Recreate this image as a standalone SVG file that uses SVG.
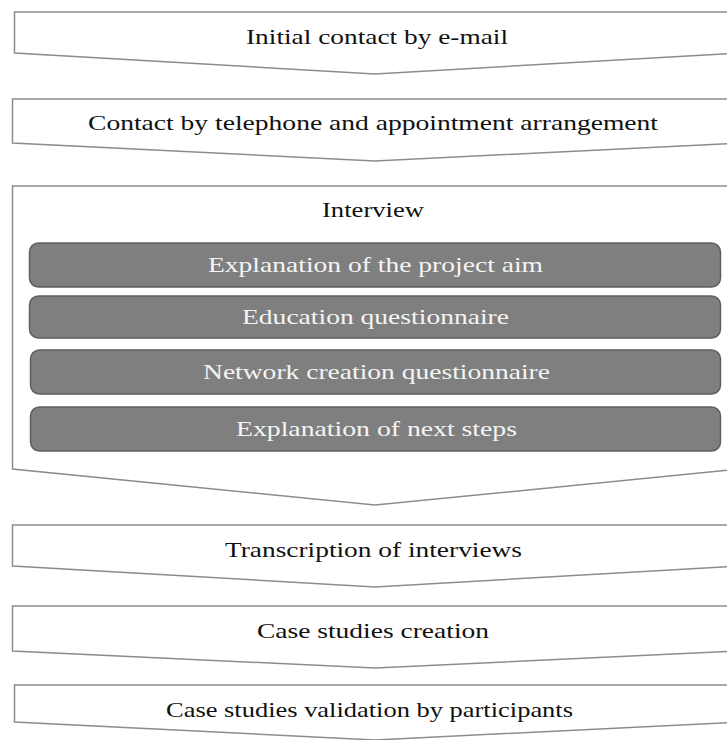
<svg xmlns="http://www.w3.org/2000/svg" width="727" height="740" viewBox="0 0 727 740">
<style>
.chev{fill:#ffffff;stroke:#8c8c8c;stroke-width:1.5;stroke-linejoin:miter}
.sub{fill:#7f7f7f;stroke:#5f5f5f;stroke-width:1.5}
.t{font-family:"Liberation Serif","Times New Roman",serif;font-size:21px;fill:#111111}
.w{font-family:"Liberation Serif","Times New Roman",serif;font-size:21px;fill:#f4f4f4}
</style>
<rect width="727" height="740" fill="#ffffff"/>
<g id="step1">
<path class="chev" d="M14.5,12 H740 V53 L375,74 L14.5,53 Z"/>
<text class="t" x="246" y="44" textLength="262" lengthAdjust="spacingAndGlyphs">Initial contact by e-mail</text>
</g>
<g id="step2">
<path class="chev" d="M12.5,99 H740 V143 L375,161 L12.5,143 Z"/>
<text class="t" x="88" y="130" textLength="570" lengthAdjust="spacingAndGlyphs">Contact by telephone and appointment arrangement</text>
</g>
<g id="step3">
<path class="chev" d="M12.5,186 H740 V469 L375,505 L12.5,469 Z"/>
<text class="t" x="322" y="217" textLength="102" lengthAdjust="spacingAndGlyphs">Interview</text>
</g>
<g id="sub1">
<rect class="sub" x="29.5" y="243" width="691" height="44" rx="9"/>
<text class="w" x="208" y="272" textLength="335" lengthAdjust="spacingAndGlyphs">Explanation of the project aim</text>
</g>
<g id="sub2">
<rect class="sub" x="29.5" y="296" width="691" height="42" rx="9"/>
<text class="w" x="242" y="324" textLength="267" lengthAdjust="spacingAndGlyphs">Education questionnaire</text>
</g>
<g id="sub3">
<rect class="sub" x="30.5" y="350" width="690" height="44" rx="9"/>
<text class="w" x="203" y="379" textLength="347" lengthAdjust="spacingAndGlyphs">Network creation questionnaire</text>
</g>
<g id="sub4">
<rect class="sub" x="30.5" y="407" width="690" height="44" rx="9"/>
<text class="w" x="236" y="436" textLength="281" lengthAdjust="spacingAndGlyphs">Explanation of next steps</text>
</g>
<g id="step4">
<path class="chev" d="M12.5,525 H740 V566 L375,587 L12.5,566 Z"/>
<text class="t" x="225" y="557" textLength="297" lengthAdjust="spacingAndGlyphs">Transcription of interviews</text>
</g>
<g id="step5">
<path class="chev" d="M12.5,606 H740 V651 L375,668 L12.5,651 Z"/>
<text class="t" x="257" y="638" textLength="232" lengthAdjust="spacingAndGlyphs">Case studies creation</text>
</g>
<g id="step6">
<path class="chev" d="M14.5,685 H740 V722 L375,740 L14.5,722 Z"/>
<text class="t" x="166" y="717" textLength="407" lengthAdjust="spacingAndGlyphs">Case studies validation by participants</text>
</g>
<g id="connectors"></g>
</svg>
